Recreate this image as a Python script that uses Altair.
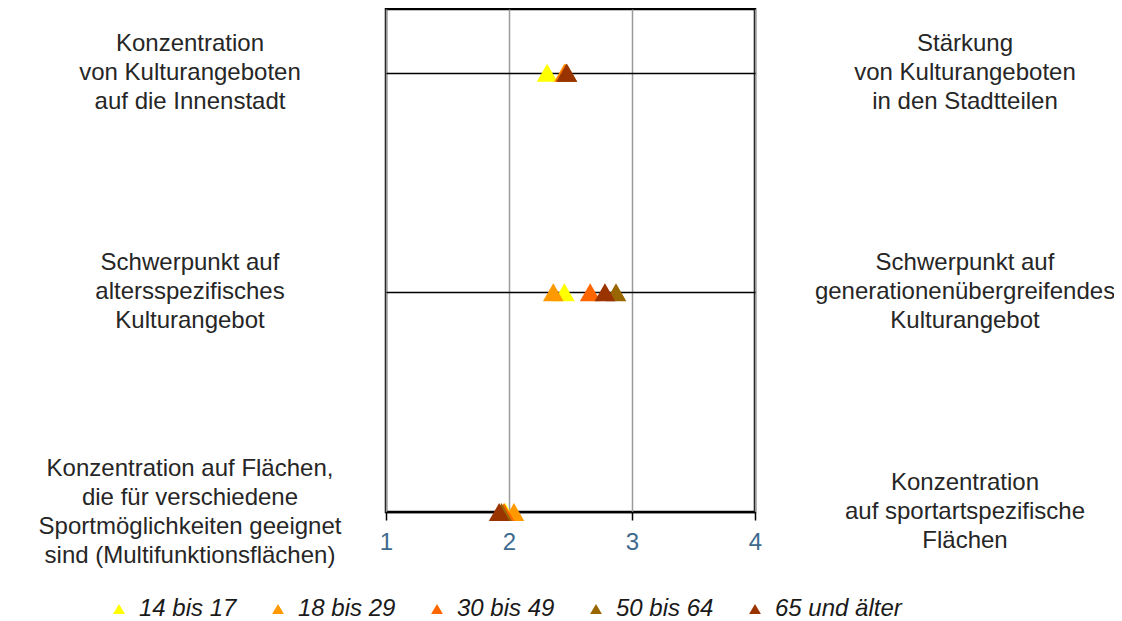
import altair as alt
import pandas as pd

groups = ["14 bis 17", "18 bis 29", "30 bis 49", "50 bis 64", "65 und älter"]
colors = ["#FFFF00", "#FF9900", "#FF6600", "#996600", "#993300"]

row_pos = [2, 1, 0]
left_labels = [
    "Konzentration\nvon Kulturangeboten\nauf die Innenstadt",
    "Schwerpunkt auf\naltersspezifisches\nKulturangebot",
    "Konzentration  auf Flächen,\ndie für verschiedene\nSportmöglichkeiten  geeignet\nsind (Multifunktionsflächen)",
]
right_labels = [
    "Stärkung\nvon Kulturangeboten\nin den Stadtteilen",
    "Schwerpunkt auf\ngenerationenübergreifendes\nKulturangebot",
    "Konzentration\nauf sportartspezifische\nFlächen",
]

# values per age group, one per row (top, middle, bottom)
v_14_17 = [2.31, 2.45, 1.97]
v_18_29 = [2.45, 2.36, 2.04]
v_30_49 = [2.46, 2.66, 1.96]
v_50_64 = [2.47, 2.87, 1.94]
v_65 = [2.47, 2.78, 1.92]

series = [v_14_17, v_18_29, v_30_49, v_50_64, v_65]
rows = []
for g, vals in zip(groups, series):
    for p, v in zip(row_pos, vals):
        rows.append({"gruppe": g, "pos": p, "wert": v})
df = pd.DataFrame(rows)

label_rows = []
for side, labels in (("left", left_labels), ("right", right_labels)):
    for p, lab in zip(row_pos, labels):
        label_rows.append({"side": side, "pos": p, "label": lab,
                           "nlines": lab.count("\n") + 1})
lab_df = pd.DataFrame(label_rows)

FONT = "Liberation Sans"
LH = 29

x_enc = alt.X(
    "wert:Q",
    scale=alt.Scale(domain=[1, 4], nice=False, zero=False),
    axis=alt.Axis(
        values=[1, 2, 3, 4], format="d", title=None, grid=True,
        gridColor="#9a9a9a", gridWidth=1.5, domain=False, ticks=True,
        tickColor="black", tickSize=8, tickWidth=1.5, labelColor="#3E6A8E",
        labelFontSize=24, labelFont=FONT, labelPadding=10, labelFlush=False,
    ),
)
y_enc = alt.Y(
    "pos:Q",
    scale=alt.Scale(domain=[0, 2.29], nice=False, zero=False),
    axis=alt.Axis(
        values=[0, 1, 2], grid=True, gridColor="black", gridWidth=1.5,
        labels=False, ticks=False, domain=False, title=None,
    ),
)

points = alt.Chart(df).mark_point(
    shape="triangle-up", filled=True, size=430, opacity=1
).encode(
    x=x_enc,
    y=y_enc,
    color=alt.Color(
        "gruppe:N",
        sort=groups,
        scale=alt.Scale(domain=groups, range=colors),
        legend=alt.Legend(
            orient="none", legendX=-279, legendY=588, direction="horizontal",
            title=None, symbolType="triangle-up", symbolSize=140,
            labelFontSize=24, labelFont=FONT, labelFontStyle="italic",
            labelColor="#1a1a1a", columnPadding=29, labelOffset=8,
            padding=0, symbolStrokeWidth=0, labelLimit=300,
        ),
    ),
)

text_layers = []
for side, xpix in (("left", -196), ("right", 579)):
    for n in (3, 4):
        text_layers.append(
            alt.Chart(lab_df)
            .transform_filter((alt.datum.side == side) & (alt.datum.nlines == n))
            .mark_text(align="center", baseline="middle", lineBreak="\n",
                       fontSize=24, font=FONT, color="#262626", lineHeight=LH,
                       dy=-(n - 1) * LH / 2)
            .encode(y=alt.Y("pos:Q"), x=alt.value(xpix), text="label:N")
        )

chart = alt.layer(points, *text_layers).properties(
    width=369,
    height=503,
    padding={"left": 378, "top": 1, "right": 359, "bottom": 108},
    autosize=alt.AutoSizeParams(type="none"),
).configure_view(stroke="black", strokeWidth=2.5)

chart.save("out.html", embed_options={"renderer": "svg", "actions": False})
